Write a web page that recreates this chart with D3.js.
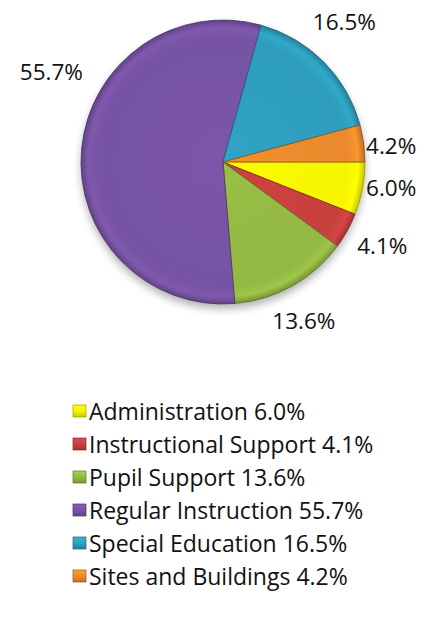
<!DOCTYPE html>
<html>
<head>
<meta charset="utf-8">
<script src="https://cdn.jsdelivr.net/npm/d3@7"></script>
<style>
  html, body { margin: 0; padding: 0; background: #fff; }
  svg { display: block; }
  text { font-family: "Open Sans", sans-serif; fill: #111; }
</style>
</head>
<body>
<svg id="chart" width="427" height="620"></svg>
<script>
// Budget share by function (percent)
const categories = [
  "Administration",
  "Instructional Support",
  "Pupil Support",
  "Regular Instruction",
  "Special Education",
  "Sites and Buildings"
];
const values = [6.0, 4.1, 13.6, 55.7, 16.5, 4.2];
const valueLabels = ["6.0%", "4.1%", "13.6%", "55.7%", "16.5%", "4.2%"];

// Slice colours
const colors = ["#f6f400", "#c7403e", "#93b843", "#7753a3", "#2e9dbd", "#ea8a2c"];

// Label placement tweaks (degrees added to the slice mid-angle, radius in px)
const labelAngleShift = [-2.3, -1.2, 2.2, 22.4, -4.5, 1.8];
const labelRadius = [170, 180, 178, 194, 186, 169];

const svg = d3.select("#chart");
const cx = 223, cy = 162, R = 142;

const defs = svg.append("defs");
const blur = defs.append("filter").attr("id", "blur")
  .attr("x", "-20%").attr("y", "-20%").attr("width", "140%").attr("height", "150%");
blur.append("feGaussianBlur").attr("stdDeviation", 4);

// Bevel-like shading per slice: slight highlight inside, darker at the rim
colors.forEach((c, i) => {
  const base = d3.color(c);
  const g = defs.append("radialGradient").attr("id", "grad" + i)
    .attr("gradientUnits", "userSpaceOnUse")
    .attr("cx", 0).attr("cy", 0).attr("r", R);
  g.append("stop").attr("offset", "0%").attr("stop-color", base.brighter(0.1).formatHex());
  g.append("stop").attr("offset", "88%").attr("stop-color", base.formatHex());
  g.append("stop").attr("offset", "95%").attr("stop-color", base.brighter(0.2).formatHex());
  g.append("stop").attr("offset", "100%").attr("stop-color", base.darker(0.6).formatHex());

  const lg = defs.append("linearGradient").attr("id", "leg" + i)
    .attr("x1", 0).attr("y1", 0).attr("x2", 0).attr("y2", 1);
  lg.append("stop").attr("offset", "0%").attr("stop-color", base.brighter(0.4).formatHex());
  lg.append("stop").attr("offset", "55%").attr("stop-color", base.formatHex());
  lg.append("stop").attr("offset", "100%").attr("stop-color", base.darker(0.6).formatHex());
});

const pie = d3.pie().sort(null).value(d => d)
  .startAngle(Math.PI / 2).endAngle(Math.PI / 2 + 2 * Math.PI);
const arcs = pie(values);
const arc = d3.arc().innerRadius(0).outerRadius(R);

const g = svg.append("g").attr("transform", `translate(${cx},${cy})`);

// Soft shadow under the pie
g.append("circle")
  .attr("cx", 0).attr("cy", 5).attr("r", R)
  .attr("fill", "#000").attr("opacity", 0.3)
  .attr("filter", "url(#blur)");

g.append("g")
  .selectAll("path").data(arcs).join("path")
  .attr("d", arc)
  .attr("fill", (d, i) => `url(#grad${i})`)
  .attr("stroke", (d, i) => d3.color(colors[i]).darker(1.3).formatHex())
  .attr("stroke-width", 0.8)
  .attr("stroke-linejoin", "round");

// Value labels outside the pie
g.selectAll("text.val").data(arcs).join("text")
  .attr("class", "val")
  .attr("transform", (d, i) => {
    const a = (d.startAngle + d.endAngle) / 2 + labelAngleShift[i] * Math.PI / 180;
    const r = labelRadius[i];
    return `translate(${Math.sin(a) * r},${-Math.cos(a) * r})`;
  })
  .attr("text-anchor", "middle")
  .attr("dominant-baseline", "central")
  .style("font-size", "22.5px")
  .text((d, i) => valueLabels[i]);

// Legend
const legend = svg.append("g").attr("transform", "translate(73,411)");
const rows = legend.selectAll("g").data(categories).join("g")
  .attr("transform", (d, i) => `translate(0,${i * 33})`);
rows.append("rect")
  .attr("x", 0).attr("y", -6).attr("width", 13).attr("height", 12)
  .attr("fill", (d, i) => `url(#leg${i})`)
  .attr("stroke", (d, i) => d3.color(colors[i]).darker(1.2).formatHex())
  .attr("stroke-width", 0.7);
rows.append("text")
  .attr("x", 16).attr("y", 0)
  .attr("dominant-baseline", "central")
  .style("font-size", "23px")
  .text((d, i) => `${d} ${valueLabels[i]}`);
</script>
</body>
</html>
